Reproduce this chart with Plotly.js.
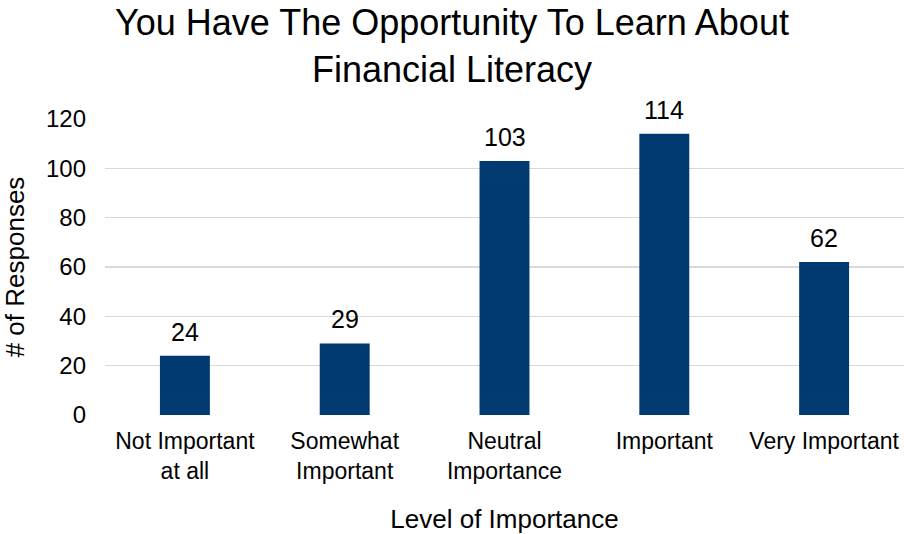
<!DOCTYPE html>
<html>
<head>
<meta charset="utf-8">
<script src="https://cdn.plot.ly/plotly-3.0.1.min.js"></script>
<style>html,body{margin:0;padding:0;background:#fff;}#chart{width:904px;height:534px;}</style>
</head>
<body>
<div id="chart"></div>
<script>
const categories = ["Not Important<br>at all", "Somewhat<br>Important", "Neutral<br>Importance", "Important", "Very Important"];
const responses = [24, 29, 103, 114, 62];
const yTicks = [0, 20, 40, 60, 80, 100, 120];

const FONT = "Arial, 'Liberation Sans', sans-serif";
const BAR_COLOR = "#013A71";

const trace = {
  type: "bar",
  x: categories,
  y: responses,
  marker: {color: BAR_COLOR},
  hoverinfo: "x+y"
};

const annotations = categories.map((c, i) => ({
  x: c, y: responses[i], xref: "x", yref: "y",
  text: String(responses[i]), showarrow: false,
  yanchor: "bottom", yshift: 8,
  font: {family: FONT, size: 25, color: "#000"}
}));

const layout = {
  width: 904, height: 534,
  margin: {l: 105, r: 0, t: 119, b: 119},
  paper_bgcolor: "#fff", plot_bgcolor: "#fff",
  showlegend: false,
  bargap: 0.6875,
  title: {
    text: "You Have The Opportunity To Learn About<br>Financial Literacy",
    font: {family: FONT, size: 36, color: "#000"},
    x: 0.5, xanchor: "center", yref: "container", y: 0.934, yanchor: "top"
  },
  xaxis: {
    type: "category",
    tickfont: {family: FONT, size: 23, color: "#000"},
    ticks: "", showline: false, showgrid: false, zeroline: false,
    ticklabelstandoff: 10,
    title: {text: "Level of Importance", font: {family: FONT, size: 26, color: "#000"}, standoff: 30}
  },
  yaxis: {
    range: [0, 120],
    tickvals: yTicks,
    ticktext: yTicks.map(String),
    tickfont: {family: FONT, size: 24, color: "#000"},
    ticks: "", ticklen: 0,
    ticklabelstandoff: 18,
    showgrid: true, gridcolor: "#D9D9D9", gridwidth: 1.5,
    zeroline: false, showline: false,
    title: {text: "# of Responses", font: {family: FONT, size: 26, color: "#000"}, standoff: 17}
  },
  annotations: annotations
};

Plotly.newPlot("chart", [trace], layout, {displayModeBar: false, staticPlot: true});
</script>
</body>
</html>
